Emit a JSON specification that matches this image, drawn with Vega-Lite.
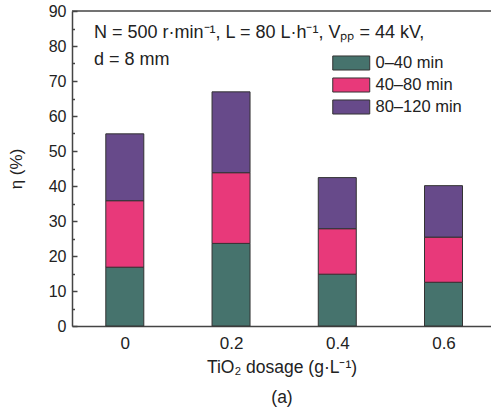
{
  "$schema": "https://vega.github.io/schema/vega-lite/v6.json",
  "width": 419,
  "height": 315,
  "autosize": "none",
  "padding": {"left": 72, "top": 11, "right": 0, "bottom": 83},
  "background": "white",
  "config": {
    "view": {"stroke": null},
    "font": "Liberation Sans",
    "axis": {
      "domainColor": "#444444",
      "domainWidth": 1.5,
      "tickColor": "#444444",
      "tickWidth": 1.5,
      "grid": false,
      "labelFontSize": 16,
      "labelColor": "#222222",
      "titleFontSize": 17,
      "titleFontWeight": "normal",
      "titleColor": "#222222"
    }
  },
  "resolve": {"axis": {"y": "independent"}},
  "layer": [
    {
      "data": {
        "values": [
          {"dosage": 0, "period": "0–40 min", "eta": 16.8},
          {"dosage": 0, "period": "40–80 min", "eta": 19.0},
          {"dosage": 0, "period": "80–120 min", "eta": 19.1},
          {"dosage": 0.2, "period": "0–40 min", "eta": 23.6},
          {"dosage": 0.2, "period": "40–80 min", "eta": 20.2},
          {"dosage": 0.2, "period": "80–120 min", "eta": 23.1},
          {"dosage": 0.4, "period": "0–40 min", "eta": 14.8},
          {"dosage": 0.4, "period": "40–80 min", "eta": 13.0},
          {"dosage": 0.4, "period": "80–120 min", "eta": 14.6},
          {"dosage": 0.6, "period": "0–40 min", "eta": 12.5},
          {"dosage": 0.6, "period": "40–80 min", "eta": 12.9},
          {"dosage": 0.6, "period": "80–120 min", "eta": 14.7}
        ]
      },
      "mark": {"type": "bar", "size": 38, "stroke": "#333333", "strokeWidth": 1},
      "encoding": {
        "x": {
          "field": "dosage",
          "type": "quantitative",
          "scale": {"domain": [-0.09, 0.68], "nice": false, "zero": false},
          "axis": {
            "values": [0, 0.2, 0.4, 0.6],
            "format": ".1~f",
            "tickSize": -5,
            "labelPadding": 14,
            "labelFontSize": 17,
            "title": ["TiO₂ dosage (g·L⁻¹)", "(a)"],
            "titleFontSize": 17.5,
            "titleLineHeight": 30,
            "titlePadding": 7
          }
        },
        "y": {
          "field": "eta",
          "type": "quantitative",
          "stack": "zero",
          "scale": {"domain": [0, 90], "nice": false},
          "axis": {
            "orient": "left",
            "values": [0, 10, 20, 30, 40, 50, 60, 70, 80, 90],
            "tickSize": -5,
            "labelPadding": 11,
            "title": "η (%)",
            "titlePadding": 23
          }
        },
        "order": {"field": "period", "sort": "ascending"},
        "color": {
          "field": "period",
          "type": "nominal",
          "scale": {
            "domain": ["0–40 min", "40–80 min", "80–120 min"],
            "range": ["#46736d", "#e8397a", "#674a8a"]
          },
          "legend": {
            "orient": "none",
            "legendX": 260,
            "legendY": 42,
            "title": null,
            "symbolType": "M-1,-0.76H3V0.76H-1Z",
            "symbolSize": 342,
            "symbolStrokeColor": "#333333",
            "symbolStrokeWidth": 1,
            "symbolOpacity": 1,
            "labelFontSize": 16.5,
            "labelColor": "#222222",
            "labelOffset": 23.5,
            "rowPadding": 2
          }
        }
      }
    },
    {
      "data": {"values": [{}]},
      "mark": {"type": "rule", "color": "#444444", "strokeWidth": 1.5},
      "encoding": {
        "y": {
          "datum": 90,
          "type": "quantitative",
          "axis": {
            "orient": "left",
            "values": [5, 15, 25, 35, 45, 55, 65, 75, 85],
            "labels": false,
            "domain": false,
            "tickSize": -2.5,
            "title": null
          }
        }
      }
    },
    {
      "data": {"values": [{}]},
      "mark": {"type": "text", "align": "left", "baseline": "alphabetic", "fontSize": 18, "color": "#222222"},
      "encoding": {
        "x": {"datum": -0.058},
        "y": {"datum": 82.3, "axis": null},
        "text": {"value": "N = 500 r·min⁻¹, L = 80 L·h⁻¹, Vₚₚ = 44 kV,"}
      }
    },
    {
      "data": {"values": [{}]},
      "mark": {"type": "text", "align": "left", "baseline": "alphabetic", "fontSize": 18, "color": "#222222"},
      "encoding": {
        "x": {"datum": -0.058},
        "y": {"datum": 74.6, "axis": null},
        "text": {"value": "d = 8 mm"}
      }
    }
  ]
}
